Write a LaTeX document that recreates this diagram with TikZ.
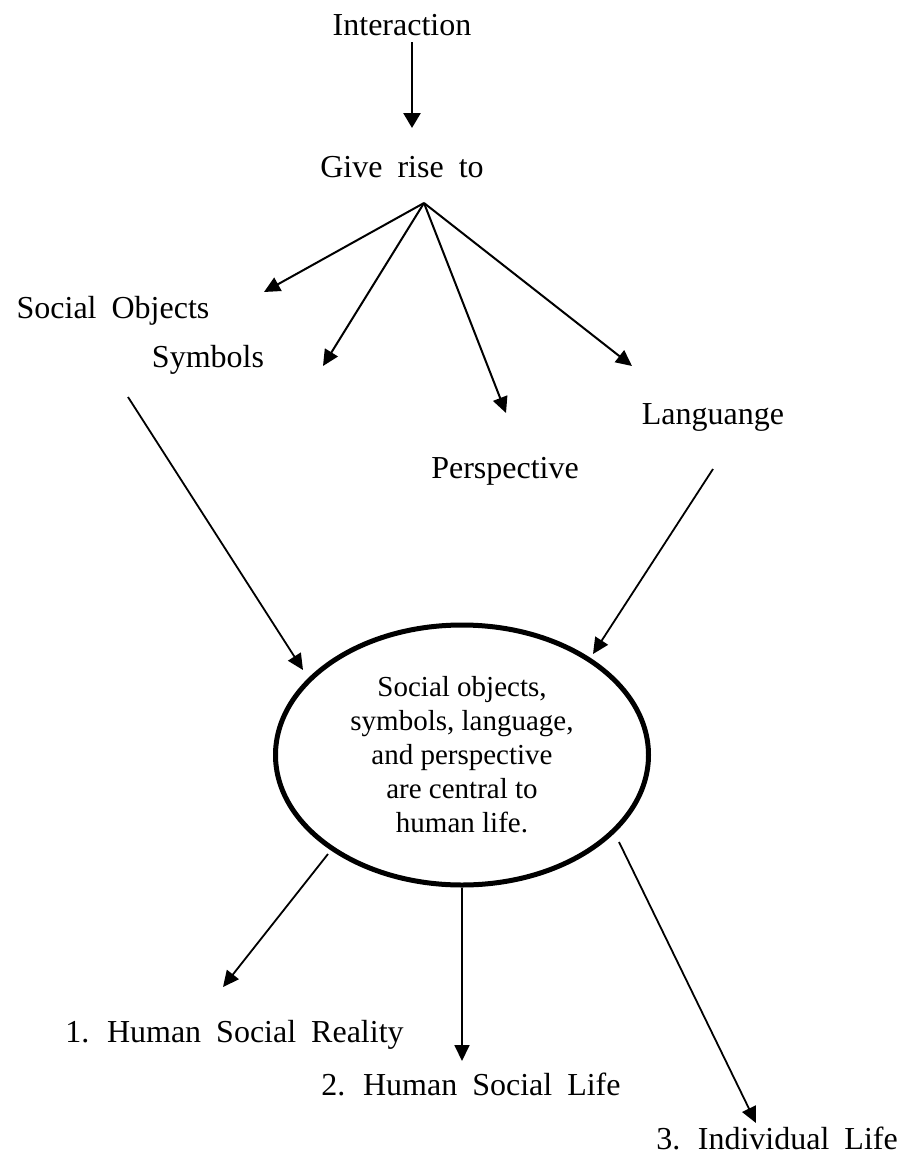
\documentclass[tikz,border=0pt]{standalone}
\usepackage{fontspec}
\setmainfont{Liberation Serif}
\usetikzlibrary{arrows.meta,shapes.geometric}
\newcommand\mywidespace{\spaceskip 15pt\relax}
\begin{document}
\begin{tikzpicture}[x=1pt,y=-1pt,
  lbl/.style={font=\fontsize{32}{38}\selectfont\mywidespace, anchor=base, inner sep=0pt},
  conn/.style={line width=1.8pt, -{Triangle[length=16pt,width=15pt]}},
  fan/.style={conn, line width=2pt},
  topconn/.style={conn, line width=2.6pt, -{Triangle[length=15pt,width=17pt]}},
  bigell/.style={ellipse, draw, line width=5pt, minimum width=373pt, minimum height=260pt, inner sep=0pt,
    align=center, font=\fontsize{29}{34}\selectfont}]
\useasboundingbox (0,0) rectangle (904,1154);

\node[lbl] (inter) at (402,35) {Interaction};
\node[lbl] (give) at (402,177) {Give rise to};
\node[lbl] (socobj) at (113,318) {Social Objects};
\node[lbl] (symb) at (208,367) {Symbols};
\node[lbl] (persp) at (505,478) {Perspective};
\node[lbl] (lang) at (713,424) {Languange};
\node[bigell] (ell) at (462,755) {Social objects,\\symbols, language,\\and perspective\\are central to\\human life.};
\node[lbl] (r1) at (234.5,1042) {1. Human Social Reality};
\node[lbl] (r2) at (471,1095) {2. Human Social Life};
\node[lbl] (r3) at (777,1149) {3. Individual Life};

\coordinate (interS) at (412,42);
\coordinate (giveN) at (412,128);
\coordinate (fanO) at (424,203);
\coordinate (socobjT) at (264,292);
\coordinate (symbT) at (323,366);
\coordinate (perspT) at (506,413);
\coordinate (langT) at (632,366);
\coordinate (socobjB) at (128,397);
\coordinate (ellL) at (303,670);
\coordinate (langB) at (713,469);
\coordinate (ellR) at (593,654);
\coordinate (ellSW) at (328,854);
\coordinate (r1T) at (223,987);
\coordinate (r2T) at (462,1061);
\coordinate (ellSE) at (619,842);
\coordinate (r3T) at (756,1123);

\draw[topconn] (interS) -- (giveN);
\draw[fan] (fanO) -- (socobjT);
\draw[fan] (fanO) -- (symbT);
\draw[fan] (fanO) -- (perspT);
\draw[fan] (fanO) -- (langT);
\draw[conn] (socobjB) -- (ellL);
\draw[conn] (langB) -- (ellR);
\draw[conn] (ellSW) -- (r1T);
\draw[conn] (ell.south) -- (r2T);
\draw[conn] (ellSE) -- (r3T);
\end{tikzpicture}
\end{document}
